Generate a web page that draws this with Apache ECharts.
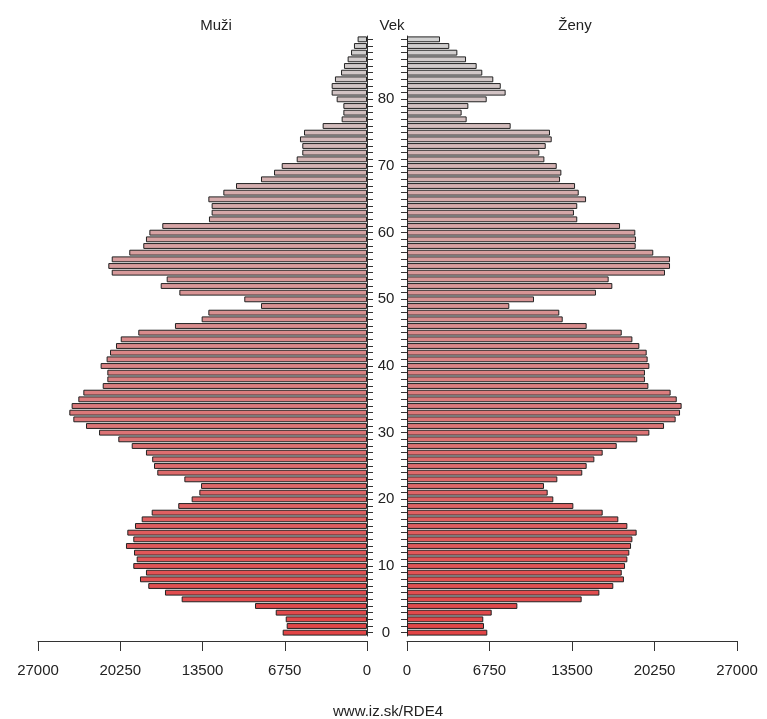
<!DOCTYPE html>
<html>
<head>
<meta charset="utf-8">
<script src="https://cdn.jsdelivr.net/npm/echarts@6/dist/echarts.min.js"></script>
<style>
html,body{margin:0;padding:0;background:#fff;}
#chart{width:767px;height:719px;}
</style>
</head>
<body>
<div id="chart"></div>
<script>
// Age categories 0..89
var ages = [];
for (var a = 0; a <= 89; a++) ages.push(String(a));

// Men (Muži), ages 0..89
var male = [
  6920,6590,6670,7490,9190,15210,16580,17950,18630,18140,
  19180,18900,19120,19780,19180,19670,19040,18490,17670,15490,
  14390,13760,13620,14990,17210,17480,17630,18140,19310,20410,
  21990,23060,24100,24430,24240,23690,23280,21690,21310,21310,
  21860,21370,21090,20600,20210,18770,15760,13570,13020,8700,
  10070,15400,16930,16440,20950,21230,20950,19510,18360,18140,
  17860,16800,12970,12750,12750,13020,11790,10750,8700,7630,
  7000,5770,5310,5310,5500,5170,3640,2080,1940,1940,
  2490,2900,2900,2630,2130,1890,1590,1310,1070,770
];

// Women (Ženy), ages 0..89
var female = [
  6570,6300,6240,6930,9030,14290,15740,16880,17750,17570,
  17840,18030,18190,18330,18440,18790,18030,17290,16010,13610,
  11970,11510,11210,12300,14340,14700,15330,16010,17160,18840,
  19830,21030,21980,22340,22470,22070,21570,19750,19470,19470,
  19830,19690,19610,19010,18440,17570,14700,12740,12460,8370,
  10390,15460,16800,16500,21110,21520,21520,20150,18710,18740,
  18680,17430,13930,13660,13930,14650,14050,13750,12520,12630,
  12250,11240,10830,11350,11840,11700,8480,4880,4470,5020,
  6520,8070,7670,7060,6160,5700,4830,4120,3460,2700
];

var xTicks = [0, 6750, 13500, 20250, 27000];

function barColor(i, n) {
  var c0 = [226, 68, 70], c1 = [208, 208, 208];
  var t = i / (n - 1);
  var r = Math.round(c0[0] + (c1[0] - c0[0]) * t);
  var g = Math.round(c0[1] + (c1[1] - c0[1]) * t);
  var b = Math.round(c0[2] + (c1[2] - c0[2]) * t);
  return 'rgb(' + r + ',' + g + ',' + b + ')';
}
function toItems(arr) {
  return arr.map(function (v, i) {
    return { value: v, itemStyle: { color: barColor(i, arr.length) } };
  });
}

var FONT = 'Liberation Sans';
var chart = echarts.init(document.getElementById('chart'), null, { renderer: 'canvas' });

var valueAxisCommon = {
  type: 'value',
  min: 0,
  max: xTicks[xTicks.length - 1],
  interval: xTicks[1] - xTicks[0],
  position: 'bottom',
  offset: 5,
  axisLine: { show: true, lineStyle: { color: '#333', width: 1 } },
  axisTick: { show: true, length: 10, lineStyle: { color: '#333' } },
  axisLabel: {
    show: true, margin: 22, fontSize: 15, color: '#222', fontFamily: FONT,
    formatter: function (v) { return String(v); }
  },
  splitLine: { show: false }
};

var option = {
  animation: false,
  backgroundColor: '#fff',
  title: [
    { text: 'Muži', left: 211, top: 13, textAlign: 'center', textStyle: { fontSize: 15, fontWeight: 'normal', color: '#222', fontFamily: FONT } },
    { text: 'Vek', left: 387, top: 13, textAlign: 'center', textStyle: { fontSize: 15, fontWeight: 'normal', color: '#222', fontFamily: FONT } },
    { text: 'Ženy', left: 570, top: 13, textAlign: 'center', textStyle: { fontSize: 15, fontWeight: 'normal', color: '#222', fontFamily: FONT } },
    { text: 'www.iz.sk/RDE4', left: 383, top: 699, textAlign: 'center', textStyle: { fontSize: 15, fontWeight: 'normal', color: '#222', fontFamily: FONT } }
  ],
  grid: [
    { left: 38, width: 329, top: 36, height: 600 },
    { left: 407, width: 330, top: 36, height: 600 }
  ],
  xAxis: [
    Object.assign({}, valueAxisCommon, { gridIndex: 0, inverse: true }),
    Object.assign({}, valueAxisCommon, { gridIndex: 1 })
  ],
  yAxis: [
    {
      type: 'category', gridIndex: 0, data: ages, position: 'right',
      axisLine: { show: true, lineStyle: { color: '#333' } },
      axisTick: { show: true, interval: 0, alignWithLabel: true, length: 6, lineStyle: { color: '#333' } },
      axisLabel: {
        show: true, align: 'center', margin: 19, fontSize: 15, color: '#222', fontFamily: FONT,
        interval: function (idx) { return idx % 10 === 0; }
      }
    },
    {
      type: 'category', gridIndex: 1, data: ages, position: 'left',
      axisLine: { show: true, lineStyle: { color: '#333' } },
      axisTick: { show: true, interval: 0, alignWithLabel: true, length: 6, lineStyle: { color: '#333' } },
      axisLabel: { show: false }
    }
  ],
  series: [
    {
      type: 'bar', xAxisIndex: 0, yAxisIndex: 0, data: toItems(male),
      barCategoryGap: '12%',
      itemStyle: { borderColor: '#222', borderWidth: 1 }
    },
    {
      type: 'bar', xAxisIndex: 1, yAxisIndex: 1, data: toItems(female),
      barCategoryGap: '12%',
      itemStyle: { borderColor: '#222', borderWidth: 1 }
    }
  ]
};
chart.setOption(option);
</script>
</body>
</html>
